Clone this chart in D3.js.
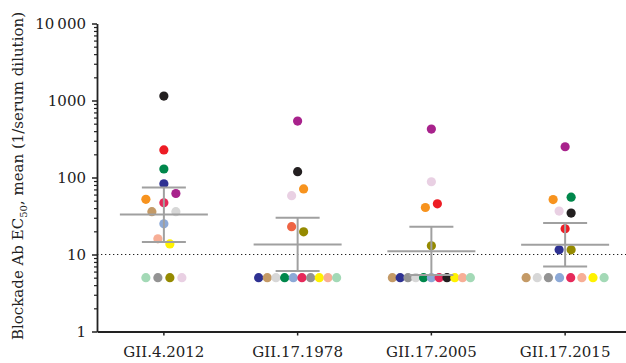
<!DOCTYPE html>
<html>
<head>
<meta charset="utf-8">
<script src="https://cdn.jsdelivr.net/npm/d3@7"></script>
<style>
  body { margin: 0; background: #fff; }
  text { font-family: "DejaVu Serif", serif; fill: #222; }
</style>
</head>
<body>
<div id="chart"></div>
<script>
// categories and summary stats (mean, upper / lower error bar)
var categories = ["GII.4.2012", "GII.17.1978", "GII.17.2005", "GII.17.2015"];
var means = [33, 13.5, 11, 13.4];
var upperBars = [74, 30, 23, 25.6];
var lowerBars = [14.5, 6.1, 5.4, 7.0];

// individual sera: [colour, value, slot]  (slot = null -> bottom row at limit of detection)
var pointsGII4_2012 = [
  ["black", 1140, 0], ["red", 228, 0], ["green", 129, 0], ["navy", 83, 0],
  ["magenta", 62, 2], ["orange", 52, -3], ["crimson", 47, 0], ["tan", 36, -2],
  ["lightgrey", 36, 2], ["lightblue", 25, 0], ["salmon", 16, -1], ["yellow", 13.7, 1],
  ["mint", 5, null], ["grey", 5, null], ["olive", 5, null], ["pink", 5, null]
];
var pointsGII17_1978 = [
  ["magenta", 541, 0], ["black", 119, 0], ["orange", 71, 1], ["pink", 58, -1],
  ["coral", 23, -1], ["olive", 19.7, 1],
  ["navy", 5, null], ["tan", 5, null], ["lightgrey", 5, null], ["green", 5, null],
  ["lightblue", 5, null], ["crimson", 5, null], ["grey", 5, null], ["yellow", 5, null],
  ["salmon", 5, null], ["mint", 5, null]
];
var pointsGII17_2005 = [
  ["magenta", 426, 0], ["pink", 88, 0], ["red", 45.5, 1], ["orange", 40.8, -1],
  ["olive", 13, 0],
  ["tan", 5, null], ["navy", 5, null], ["grey", 5, null], ["lightgrey", 5, null],
  ["green", 5, null], ["lightblue", 5, null], ["crimson", 5, null], ["black", 5, null],
  ["yellow", 5, null], ["salmon", 5, null], ["mint", 5, null]
];
var pointsGII17_2015 = [
  ["magenta", 251, 0], ["green", 55.6, 1], ["orange", 51.7, -2], ["pink", 36.6, -1],
  ["black", 34.5, 1], ["red", 21.6, 0], ["navy", 11.5, -1], ["olive", 11.5, 1],
  ["tan", 5, null], ["lightgrey", 5, null], ["grey", 5, null], ["lightblue", 5, null],
  ["crimson", 5, null], ["salmon", 5, null], ["yellow", 5, null], ["mint", 5, null]
];
var allPoints = [pointsGII4_2012, pointsGII17_1978, pointsGII17_2005, pointsGII17_2015];

var yMajorTicks = [1, 10, 100, 1000, 10000];
var cutoff = 10;

var palette = {
  black: "#231f20", red: "#ed1c24", green: "#00874b", navy: "#2e3192",
  magenta: "#a8228c", orange: "#f7931e", crimson: "#e6295a", tan: "#c49a66",
  lightgrey: "#d7d7d7", lightblue: "#8ca9d7", salmon: "#f7ae96", yellow: "#fff200",
  grey: "#939393", olive: "#958a00", mint: "#a3d9b6", pink: "#e9d0e3", coral: "#ee6444"
};

// set up chart
var svgWidth = 626;
var svgHeight = 363;

var svg = d3.select("#chart")
  .append("svg")
  .attr("width", svgWidth)
  .attr("height", svgHeight);

var x = d3.scaleBand()
  .domain(categories)
  .range([97, 632])
  .padding(0);

var y = d3.scaleLog()
  .domain([1, 10000])
  .range([331.5, 23.5]);

// dotted detection-limit line
svg.append("line")
  .attr("x1", 97).attr("x2", svgWidth)
  .attr("y1", y(cutoff)).attr("y2", y(cutoff))
  .attr("stroke", "#222")
  .attr("stroke-width", 1.2)
  .attr("stroke-dasharray", "1.3,2.7");

// dots
var slotStep = 6;
allPoints.forEach(function(pts, i) {
  var cx = x(categories[i]) + x.bandwidth() / 2;
  var bottom = pts.filter(d => d[2] === null);
  var step = bottom.length > 1 ? Math.min(12, 78 / (bottom.length - 1)) : 0;

  svg.append("g")
    .selectAll("circle")
    .data(pts)
    .enter()
    .append("circle")
    .attr("cx", function(d) {
      if (d[2] !== null) return cx + d[2] * slotStep;
      var k = bottom.indexOf(d);
      return cx + (k - (bottom.length - 1) / 2) * step;
    })
    .attr("cy", d => y(d[1]))
    .attr("r", 4.6)
    .attr("fill", d => palette[d[0]]);
});

// mean and error bars
var bars = svg.append("g")
  .attr("stroke", "#a0a0a0")
  .attr("stroke-width", 2);

categories.forEach(function(c, i) {
  var cx = x(c) + x.bandwidth() / 2;
  bars.append("line")
    .attr("x1", cx).attr("x2", cx)
    .attr("y1", y(upperBars[i])).attr("y2", y(lowerBars[i]));
  bars.append("line")
    .attr("x1", cx - 44).attr("x2", cx + 44)
    .attr("y1", y(means[i])).attr("y2", y(means[i]));
  bars.append("line")
    .attr("x1", cx - 22).attr("x2", cx + 22)
    .attr("y1", y(upperBars[i])).attr("y2", y(upperBars[i]));
  bars.append("line")
    .attr("x1", cx - 22).attr("x2", cx + 22)
    .attr("y1", y(lowerBars[i])).attr("y2", y(lowerBars[i]));
});

// y axis: minor ticks then major ticks
var minorTicks = [];
for (var e = 0; e < 4; e++) {
  for (var m = 2; m <= 9; m++) minorTicks.push(m * Math.pow(10, e));
}

svg.append("g")
  .attr("transform", "translate(97,0)")
  .call(d3.axisLeft(y).tickValues(minorTicks).tickSize(3).tickFormat(""))
  .call(g => g.select(".domain").remove())
  .selectAll("line").attr("stroke", "#222").attr("stroke-width", 1.2);

var yAxis = svg.append("g")
  .attr("transform", "translate(97,0)")
  .call(d3.axisLeft(y)
    .tickValues(yMajorTicks)
    .tickSize(5)
    .tickSizeOuter(0)
    .tickPadding(6)
    .tickFormat(d => d === 10000 ? "10\u2009000" : String(d)));

yAxis.select(".domain").attr("stroke", "#222").attr("stroke-width", 1.8);
yAxis.selectAll(".tick line").attr("stroke", "#222").attr("stroke-width", 1.5);
yAxis.selectAll("text").style("font-size", "15px").attr("fill", "#222")
  .style("font-family", "DejaVu Serif, serif");

// x axis
var xAxis = svg.append("g")
  .attr("transform", "translate(0,331.5)")
  .call(d3.axisBottom(x).tickSize(4).tickSizeOuter(0).tickPadding(11));

xAxis.select(".domain").attr("stroke", "#222").attr("stroke-width", 1.8);
xAxis.selectAll(".tick line").attr("stroke", "#222").attr("stroke-width", 1.5);
xAxis.selectAll("text").style("font-size", "15px").attr("fill", "#222")
  .style("font-family", "DejaVu Serif, serif");

// y axis title
var yTitle = svg.append("text")
  .attr("transform", "translate(23,176) rotate(-90)")
  .attr("text-anchor", "middle")
  .style("font-size", "15px");

yTitle.append("tspan").text("Blockade Ab EC");
yTitle.append("tspan").attr("dy", 4).style("font-size", "10px").text("50");
yTitle.append("tspan").attr("dy", -4).text(", mean (1/serum dilution)");
</script>
</body>
</html>
